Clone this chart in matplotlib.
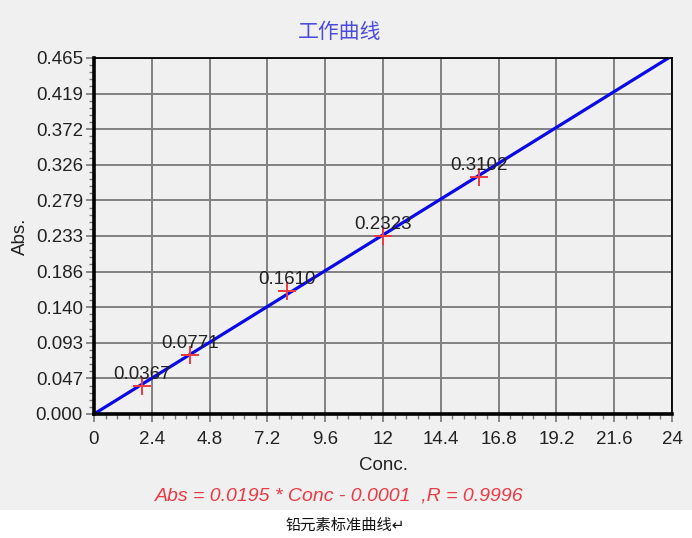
import numpy as np
import matplotlib.pyplot as plt
from matplotlib.ticker import FixedLocator, AutoMinorLocator
from matplotlib.patches import Rectangle

plt.rcParams['font.family'] = ['Liberation Sans', 'Noto Sans CJK SC', 'DejaVu Sans']

# data
conc = [2, 4, 8, 12, 16]
absorb = [0.0367, 0.0771, 0.1610, 0.2323, 0.3102]
point_labels = ['0.0367', '0.0771', '0.1610', '0.2323', '0.3102']
fit_x = [0, 24]
fit_y = [0.0, 0.4679]

x_ticks = [0, 2.4, 4.8, 7.2, 9.6, 12, 14.4, 16.8, 19.2, 21.6, 24]
x_tick_labels = ['0', '2.4', '4.8', '7.2', '9.6', '12', '14.4', '16.8', '19.2', '21.6', '24']
y_ticks = [0.0, 0.0465, 0.093, 0.1395, 0.186, 0.2325, 0.279, 0.3255, 0.372, 0.4185, 0.465]
y_tick_labels = ['0.000', '0.047', '0.093', '0.140', '0.186', '0.233', '0.279',
                 '0.326', '0.372', '0.419', '0.465']

fig = plt.figure(figsize=(6.92, 5.38), dpi=100)
fig.patch.set_facecolor('white')
# grey panel behind the chart, white strip at the bottom for the caption
fig.patches.append(Rectangle((0, 28 / 538), 1, 1, transform=fig.transFigure,
                             facecolor='#f0f0f0', edgecolor='none', zorder=-10))

ax = fig.add_axes([94 / 692, 124 / 538, 578 / 692, 356 / 538])
ax.set_facecolor('#f0f0f0')

ax.plot(fit_x, fit_y, color='#0a0ae6', lw=2.3, zorder=3, clip_on=True)
ax.plot(conc, absorb, '+', color='#ee3a40', ms=13, mew=1.4, zorder=4)
for xv, yv, lab in zip(conc, absorb, point_labels):
    ax.annotate(lab, (xv, yv), xytext=(0, 2), textcoords='offset points',
                ha='center', va='bottom', fontsize=13.5, color='#222222', zorder=5)

ax.set_xlim(0, 24)
ax.set_ylim(0, 0.465)
ax.xaxis.set_major_locator(FixedLocator(x_ticks))
ax.yaxis.set_major_locator(FixedLocator(y_ticks))
ax.set_xticklabels(x_tick_labels)
ax.set_yticklabels(y_tick_labels)
ax.xaxis.set_minor_locator(AutoMinorLocator(5))
ax.yaxis.set_minor_locator(AutoMinorLocator(5))
ax.tick_params(which='major', direction='out', length=6, width=1.2, color='#777777',
               labelsize=13.5, labelcolor='#222222', pad=2)
ax.tick_params(axis='x', which='major', pad=6)
ax.tick_params(which='minor', direction='out', length=3.5, width=1.0, color='#777777')

ax.grid(True, which='major', color='#808080', lw=1.4)
ax.set_axisbelow(True)
for side in ['left', 'bottom']:
    ax.spines[side].set_linewidth(2.6)
for side in ['top', 'right']:
    ax.spines[side].set_linewidth(1.3)
for s in ax.spines.values():
    s.set_color('black')
    s.set_zorder(6)

ax.set_xlabel('Conc.', fontsize=13.5, color='#222222', labelpad=7)
ax.set_ylabel('Abs.', fontsize=13.5, color='#222222', labelpad=5)

fig.text(340 / 692, 1 - 32 / 538, '工作曲线', ha='center', va='center',
         fontsize=15, color='#4c4cdc', family=['Noto Sans CJK SC', 'DejaVu Sans'])
fig.text(339 / 692, 1 - 496 / 538, 'Abs = 0.0195 * Conc - 0.0001  ,R = 0.9996',
         ha='center', va='center', fontsize=14, style='italic', color='#ea3a44')
fig.text(345 / 692, 1 - 525 / 538, '铅元素标准曲线↵', ha='center', va='center',
         fontsize=11, color='#111111', family=['Noto Sans CJK SC', 'DejaVu Sans'])

fig.savefig('out.png', dpi=100, facecolor=fig.get_facecolor())
